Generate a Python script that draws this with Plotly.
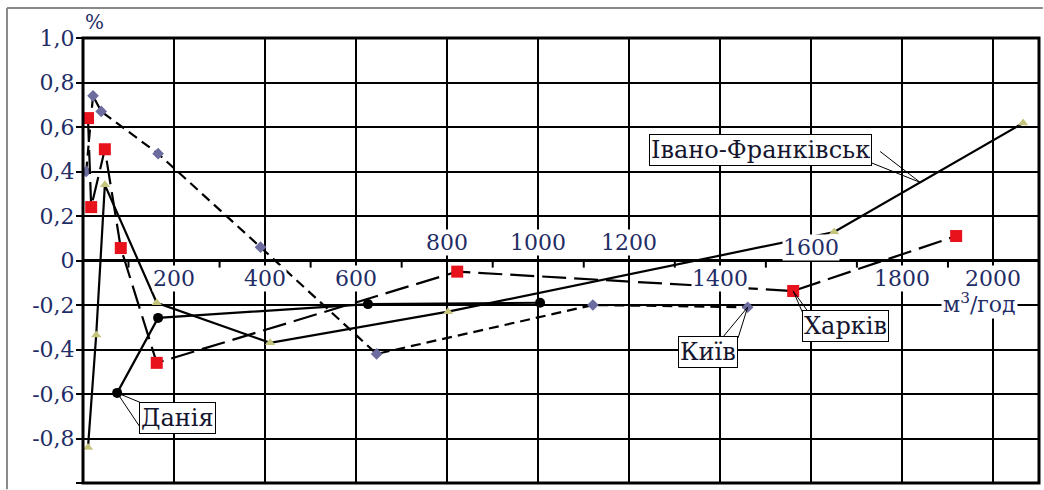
import plotly.graph_objects as go

# Flow rate (m3/h) and relative error (%) for each metering site
kyiv_x = [7, 22, 40, 165, 390, 645, 1120, 1460]
kyiv_y = [0.40, 0.74, 0.67, 0.48, 0.06, -0.42, -0.20, -0.21]

kharkiv_x = [11, 18, 48, 83, 162, 822, 1560, 1918]
kharkiv_y = [0.64, 0.24, 0.50, 0.056, -0.46, -0.05, -0.137, 0.11]

dania_x = [75, 165, 626, 1004]
dania_y = [-0.595, -0.258, -0.196, -0.19]

ivano_x = [11, 29, 48, 162, 411, 802, 1650, 2065]
ivano_y = [-0.84, -0.335, 0.34, -0.19, -0.37, -0.23, 0.128, 0.618]

y_ticks = [1.0, 0.8, 0.6, 0.4, 0.2, 0.0, -0.2, -0.4, -0.6, -0.8, -1.0]
y_tick_text = ["1,0", "0,8", "0,6", "0,4", "0,2", "0", "-0,2", "-0,4", "-0,6", "-0,8", "-1,0"]

# x tick labels sit on the zero line, some above it and some below
x_labels = [200, 400, 600, 800, 1000, 1200, 1400, 1600, 1800, 2000]
x_label_y = [-0.08, -0.08, -0.08, 0.08, 0.08, 0.08, -0.08, 0.06, -0.08, -0.08]
x_minor = [100, 300, 500, 700, 900, 1100, 1300, 1500, 1700, 1900]

FONT = "DejaVu Serif"
NUM_COLOR = "#1f2d66"
TXT_COLOR = "#15152e"

fig = go.Figure()

fig.add_trace(go.Scatter(
    x=kyiv_x, y=kyiv_y, mode="lines+markers", name="Київ",
    line=dict(color="black", width=2.2, dash="10px,6px"),
    marker=dict(symbol="diamond", size=9, color="#6c6c9e"),
))
fig.add_trace(go.Scatter(
    x=kharkiv_x, y=kharkiv_y, mode="lines+markers", name="Харків",
    line=dict(color="black", width=2.2, dash="24px,8px"),
    marker=dict(symbol="square", size=12, color="#e8121c"),
))
fig.add_trace(go.Scatter(
    x=ivano_x, y=ivano_y, mode="lines+markers", name="Івано-Франківськ",
    line=dict(color="black", width=2.2),
    marker=dict(symbol="triangle-up", size=9, color="#c4c47c"),
))
fig.add_trace(go.Scatter(
    x=dania_x, y=dania_y, mode="lines+markers", name="Данія",
    line=dict(color="black", width=2.2),
    marker=dict(symbol="circle", size=10, color="black"),
))

annotations = []
for v, yy in zip(x_labels, x_label_y):
    annotations.append(dict(
        x=v, y=yy, xref="x", yref="y", text=str(v), showarrow=False,
        font=dict(family=FONT, size=22, color=NUM_COLOR),
        bgcolor="white", borderpad=0, xanchor="center", yanchor="middle",
    ))

annotations.append(dict(
    x=1970, y=-0.19, xref="x", yref="y", text="м<sup>3</sup>/год", showarrow=False,
    font=dict(family=FONT, size=22, color=NUM_COLOR), bgcolor="white", borderpad=1,
))
annotations.append(dict(
    x=-0.0, y=1.0, xref="paper", yref="paper", text="%", showarrow=False,
    font=dict(family=FONT, size=20, color=NUM_COLOR),
    xanchor="left", yanchor="bottom", yshift=2,
))

# Callout boxes: label, box centre, and the two anchor points of the pointer
callouts = [
    ("Данія", 207, -0.71, (140, -0.65), (125, -0.748), dania_x[0], dania_y[0]),
    ("Київ", 1372, -0.413, (1404, -0.348), (1439, -0.348), kyiv_x[-1], kyiv_y[-1]),
    ("Харків", 1674, -0.294, (1580, -0.231), (1593, -0.231), kharkiv_x[-2], kharkiv_y[-2]),
    ("Івано-Франківськ", 1489, 0.497, (1751, 0.49), (1733, 0.438), 1839, 0.351),
]

shapes = []
for label, cx, cy, p1, p2, tx, ty in callouts:
    for px, py in (p1, p2):
        shapes.append(dict(type="line", xref="x", yref="y", x0=tx, y0=ty, x1=px, y1=py,
                           line=dict(color="black", width=1)))
    annotations.append(dict(
        x=cx, y=cy, xref="x", yref="y", text=label, showarrow=False,
        font=dict(family=FONT, size=24, color=TXT_COLOR),
        bgcolor="white", bordercolor="black", borderwidth=1, borderpad=1,
    ))

# short tick marks hanging below the zero line at odd hundreds
for v in x_minor:
    shapes.append(dict(type="line", xref="x", yref="y", x0=v, x1=v, y0=0, y1=-0.032,
                       line=dict(color="black", width=2), layer="below"))

# heavy frame round the plotting area
shapes.append(dict(type="rect", xref="paper", yref="paper", x0=0, x1=1, y0=0, y1=1,
                   line=dict(color="black", width=3), layer="above"))

# thin outer frame of the figure (kept inside the page)
shapes.append(dict(type="line", xref="paper", yref="paper", x0=-0.0795, x1=1.004,
                   y0=1.0674, y1=1.0674, line=dict(color="#8a8a8a", width=2)))
shapes.append(dict(type="line", xref="paper", yref="paper", x0=-0.0795, x1=-0.0795,
                   y0=1.0674, y1=-0.014, line=dict(color="#8a8a8a", width=2)))

fig.update_layout(
    width=1044, height=490,
    margin=dict(l=83, r=5, t=38, b=7),
    paper_bgcolor="white", plot_bgcolor="white",
    showlegend=False,
    annotations=annotations,
    shapes=shapes,
    xaxis=dict(
        range=[0, 2100], tickvals=[200 * i for i in range(1, 11)],
        showticklabels=False, ticks="",
        showgrid=True, gridcolor="black", gridwidth=1.8,
        zeroline=False, showline=False,
    ),
    yaxis=dict(
        range=[-1.0, 1.0], tickvals=y_ticks, ticktext=y_tick_text,
        tickfont=dict(family=FONT, size=22, color=NUM_COLOR),
        ticks="outside", ticklen=6, tickwidth=2, tickcolor="black",
        ticklabelstandoff=-3,
        showgrid=True, gridcolor="black", gridwidth=1.8,
        zeroline=True, zerolinecolor="black", zerolinewidth=3,
        showline=False,
    ),
)

# fit the figure to the visible window so the lower frame is not clipped
post = (
    "document.body.style.margin='0';"
    "document.body.style.overflow='hidden';"
    "var gd=document.getElementById('{plot_id}');"
    "Plotly.relayout(gd,{height:Math.min(490,window.innerHeight),"
    "width:Math.min(1044,window.innerWidth)});"
)

fig.write_html("out.html", config={"displayModeBar": False}, post_script=post)
